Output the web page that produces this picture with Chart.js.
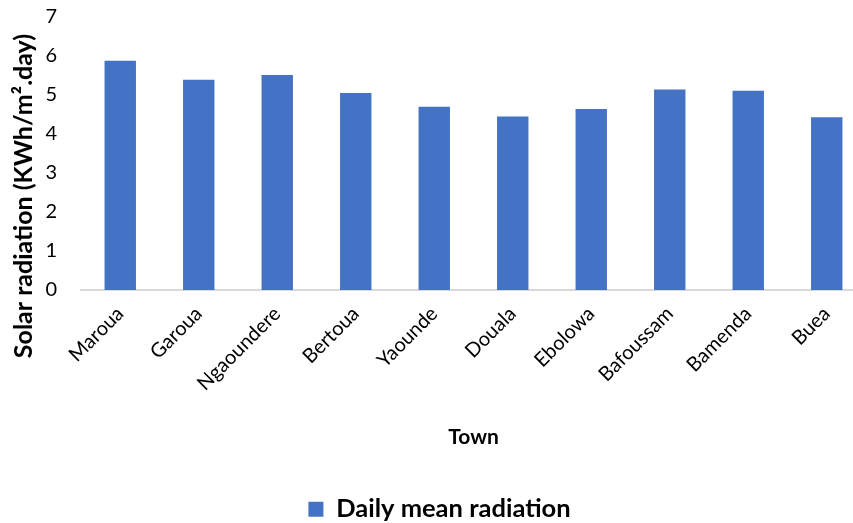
<!DOCTYPE html>
<html>
<head>
<meta charset="utf-8">
<script src="https://cdn.jsdelivr.net/npm/chart.js@4/dist/chart.umd.min.js"></script>
<style>
  html, body { margin: 0; padding: 0; background: #fff; overflow: hidden; }
  #wrap { width: 866px; height: 551px; margin-top: -19px; }
</style>
</head>
<body>
<div id="wrap"><canvas id="radChart"></canvas></div>
<script>
// Données
const towns = ['Maroua', 'Garoua', 'Ngaoundere', 'Bertoua', 'Yaounde', 'Douala', 'Ebolowa', 'Bafoussam', 'Bamenda', 'Buea'];
const dailyMean = [5.88, 5.39, 5.51, 5.05, 4.70, 4.45, 4.64, 5.14, 5.11, 4.43];
const yTicks = [0, 1, 2, 3, 4, 5, 6, 7];

const FONT = 'Lato, "Open Sans", sans-serif';

// Titre de l'axe Y dessiné à la main (décalé vers le bas comme dans Excel)
const yTitlePlugin = {
    id: 'yTitle',
    afterDraw(chart) {
        const ctx = chart.ctx;
        ctx.save();
        ctx.translate(24, 196 + 19);
        ctx.rotate(-Math.PI / 2);
        ctx.font = 'bold 25px ' + FONT;
        ctx.fillStyle = '#000';
        ctx.textAlign = 'center';
        ctx.textBaseline = 'middle';
        ctx.fillText('Solar radiation (KWh/m\u00B2.day)', 0, 0);
        ctx.restore();
    }
};

function initChart() {
    const ctx = document.getElementById('radChart').getContext('2d');

    new Chart(ctx, {
        type: 'bar',
        data: {
            labels: towns,
            datasets: [{
                label: 'Daily mean radiation',
                data: dailyMean,
                backgroundColor: '#4472C4',
                barPercentage: 0.4,
                categoryPercentage: 1.0
            }]
        },
        options: {
            responsive: true,
            maintainAspectRatio: false,
            animation: false,
            layout: {
                padding: { left: 13, top: 0, right: 0, bottom: 0 }
            },
            plugins: {
                legend: {
                    position: 'bottom',
                    labels: {
                        color: '#000',
                        font: { family: FONT, size: 25.5, weight: 'bold' },
                        boxWidth: 15,
                        boxHeight: 15,
                        padding: 2
                    }
                },
                tooltip: { enabled: false }
            },
            scales: {
                x: {
                    grid: { display: false },
                    border: { display: true, color: '#d9d9d9', width: 2 },
                    ticks: {
                        color: '#000',
                        font: { family: FONT, size: 20 },
                        minRotation: 45,
                        maxRotation: 45,
                        padding: 4
                    },
                    title: {
                        display: true,
                        text: 'Town',
                        color: '#000',
                        font: { family: FONT, size: 21, weight: 'bold' },
                        padding: { top: 25, bottom: 45 }
                    }
                },
                y: {
                    min: 0,
                    max: 7,
                    grid: { display: false, drawTicks: false },
                    border: { display: false },
                    afterBuildTicks(axis) {
                        axis.ticks = yTicks.map(v => ({ value: v }));
                    },
                    afterFit(axis) {
                        axis.width = 68;
                    },
                    ticks: {
                        color: '#000',
                        font: { family: FONT, size: 20 },
                        padding: 24
                    }
                }
            }
        },
        plugins: [yTitlePlugin]
    });
}

document.addEventListener('DOMContentLoaded', initChart);
</script>
</body>
</html>
